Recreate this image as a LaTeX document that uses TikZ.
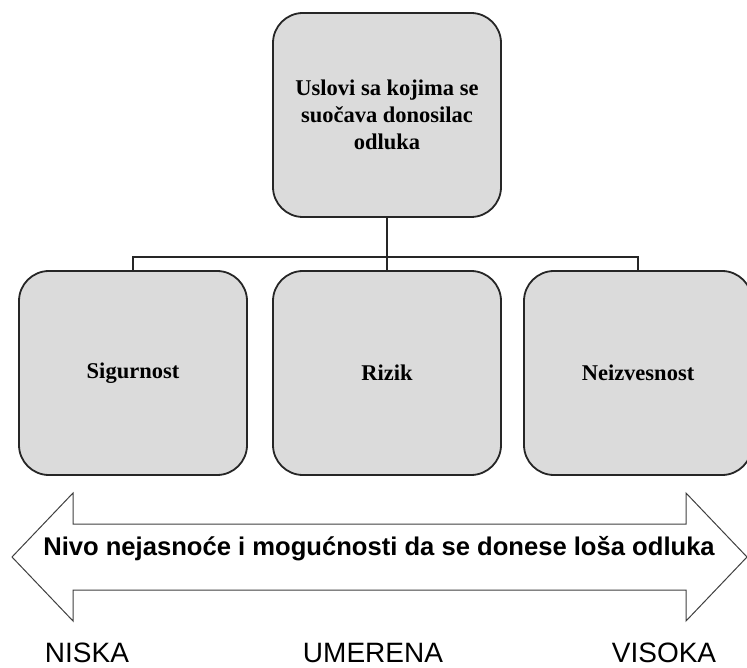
\documentclass[tikz,border=0pt]{standalone}
\usepackage{fontspec}
\setmainfont{Liberation Serif}
\setsansfont{Liberation Sans}
\usepackage{tikz}

\begin{document}
\begin{tikzpicture}[x=1pt,y=-1pt,
    box/.style={shape=rectangle,rounded corners=30pt,draw=black!85,line width=1.8pt,fill=black!14,
        minimum width=228pt,minimum height=204pt,align=center,inner sep=0pt,
        font=\bfseries\fontsize{22.5}{27}\selectfont},
    level/.style={font=\sffamily\fontsize{28}{30}\selectfont}]
    \useasboundingbox (0,0) rectangle (747,668);
    \node[box] (U) at (387,115) {Uslovi sa kojima se\\suočava donosilac\\odluka};
    \node[box] (S) at (133,373) {Sigurnost};
    \node[box] (R) at (387,373) {Rizik};
    \node[box] (N) at (638,373) {Neizvesnost};
    \coordinate (bus) at (387,257);
    \path [draw=black!85,line width=1.6pt] (U) -- (bus);
    \path [draw=black!85,line width=1.6pt] (bus) -| (S);
    \path [draw=black!85,line width=1.6pt] (bus) -- (R);
    \path [draw=black!85,line width=1.6pt] (bus) -| (N);
    % strelica
    \draw[black!75,line width=1pt,fill=white] (12,557) -- (73,493) -- (73,524) -- (686,524) -- (686,493)
        -- (747,557) -- (686,621) -- (686,590) -- (73,590) -- (73,621) -- cycle;
    \node[font=\sffamily\bfseries\fontsize{25.6}{27}\selectfont] (T) at (379,549) {Nivo nejasnoće i mogućnosti da se donese loša odluka};
    \node[level] (L1) at (87,653) {NISKA};
    \node[level] (L2) at (373,653) {UMERENA};
    \node[level] (L3) at (664,653) {VISOKA};
\end{tikzpicture}
\end{document}
